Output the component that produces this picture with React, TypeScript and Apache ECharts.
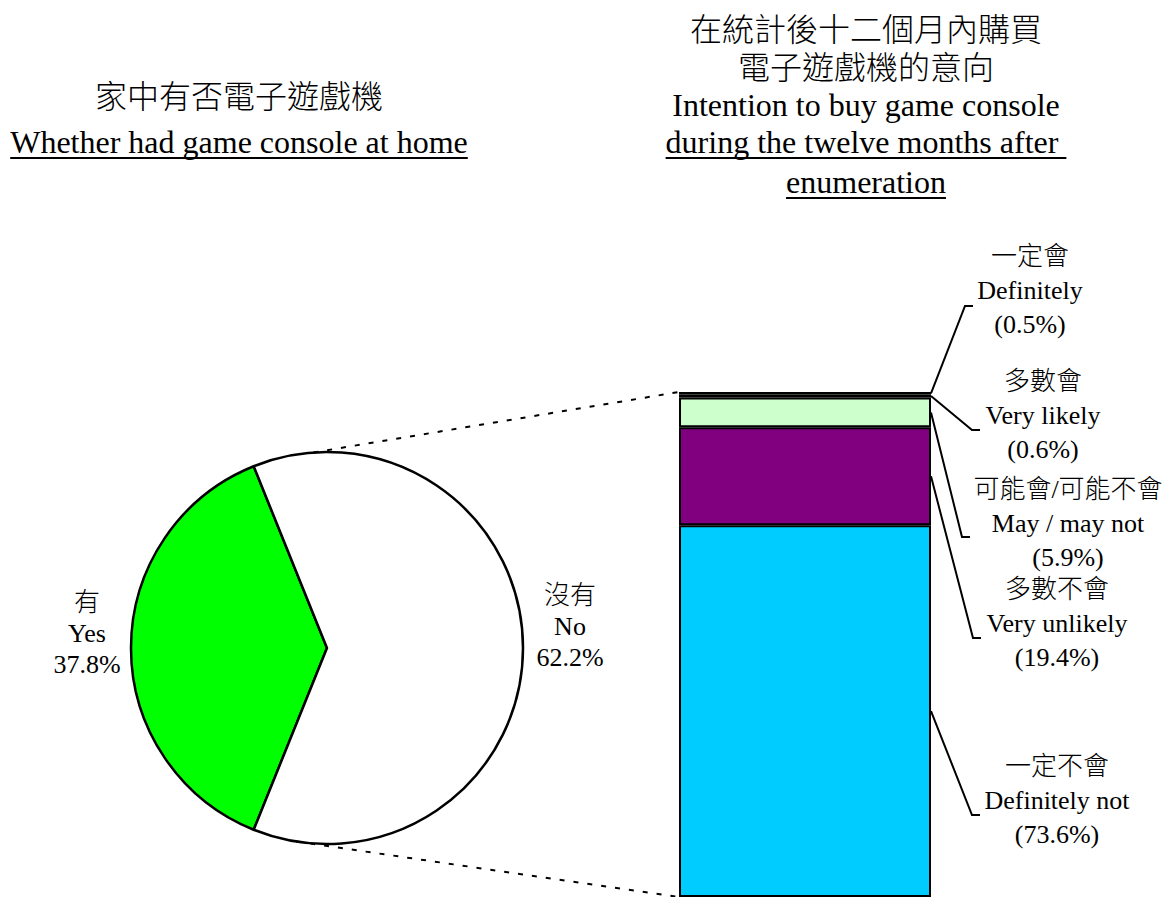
import React, { useEffect, useRef } from 'react';
import * as echarts from 'echarts';

// ---------- data ----------
const pieCn = ['有', '沒有'];
const pieEn = ['Yes', 'No'];
const pieValues = [37.8, 62.2];
const pieColors = ['#00FF00', '#FFFFFF'];

const intentCn = ['一定會', '多數會', '可能會/可能不會', '多數不會', '一定不會'];
const intentEn = ['Definitely', 'Very likely', 'May / may not', 'Very unlikely', 'Definitely not'];
const intentValues = [0.5, 0.6, 5.9, 19.4, 73.6];
const intentColors = ['#FFFF99', '#CCFFFF', '#CCFFCC', '#800080', '#00CCFF'];

const leftTitle = ['家中有否電子遊戲機', 'Whether had game console at home'];
const rightTitle = [
  '在統計後十二個月內購買',
  '電子遊戲機的意向',
  'Intention to buy game console',
  'during the twelve months after ',
  'enumeration',
];

// ---------- layout ----------
const W = 1174;
const H = 897;
const FONT = "'Liberation Serif', 'Times New Roman', 'Noto Sans CJK TC', serif";
const WEIGHT = 300;
const PIE_C = [327, 648];
const PIE_R = 196;
const GRID = { left: 679, top: 392, width: 252, height: 508 };
const pieLabelPos = [[87, 633], [570, 626]];
const intentLabelPos = [[1030, 290], [1043, 415], [1068, 523], [1057, 623], [1057, 800]];
const elbowPos = [[965, 306], [972, 430], [962, 537], [973, 638], [972, 815]];
const connectorAngles = [94, 261];
const leftTitleLayout = { cx: 239, ys: [97, 142], underline: [false, true] };
const rightTitleLayout = { cx: 866, ys: [30, 68, 105, 142, 182], underline: [false, false, false, true, true] };

function measure(text: string, size: number) {
  const c = document.createElement('canvas').getContext('2d');
  if (!c) return text.length * size * 0.45;
  c.font = `${WEIGHT} ${size}px ${FONT}`;
  return c.measureText(text).width;
}

function titleElements(lines: string[], layout: { cx: number; ys: number[]; underline: boolean[] }) {
  const els: any[] = [];
  lines.forEach((t, i) => {
    const y = layout.ys[i];
    if (layout.underline[i]) {
      const w = measure(t, 32);
      const x0 = layout.cx - w / 2;
      els.push({
        type: 'text', x: x0, y, silent: true,
        style: { text: t, fontSize: 32, fontWeight: WEIGHT, fontFamily: FONT, fill: '#000', align: 'left', textAlign: 'left', verticalAlign: 'middle', textVerticalAlign: 'middle' },
      });
      els.push({
        type: 'line', silent: true,
        shape: { x1: x0, y1: y + 16, x2: x0 + w, y2: y + 16 },
        style: { stroke: '#000', lineWidth: 2 },
      });
    } else {
      els.push({
        type: 'text', x: layout.cx, y, silent: true,
        style: { text: t, fontSize: 32, fontWeight: WEIGHT, fontFamily: FONT, fill: '#000', align: 'center', textAlign: 'center', verticalAlign: 'middle', textVerticalAlign: 'middle' },
      });
    }
  });
  return els;
}

export default function App() {
  const ref = useRef<HTMLDivElement>(null);

  useEffect(() => {
    if (!ref.current) return;
    const chart = echarts.init(ref.current, undefined, { renderer: 'svg' });
    const pieTotal = pieValues.reduce((a, b) => a + b, 0);

    const barSeries: any[] = [];
    for (let i = intentValues.length - 1; i >= 0; i--) {
      barSeries.push({
        type: 'bar',
        name: intentEn[i],
        stack: 'intent',
        data: [intentValues[i]],
        barWidth: '100%',
        silent: true,
        itemStyle: { color: intentColors[i], borderColor: '#000', borderWidth: 2 },
      });
    }

    chart.setOption({
      animation: false,
      backgroundColor: '#FFFFFF',
      grid: { left: GRID.left, top: GRID.top, width: GRID.width, height: GRID.height, containLabel: false },
      xAxis: { type: 'category', data: ['intent'], show: false },
      yAxis: { type: 'value', min: 0, max: 100, show: false },
      series: [
        {
          type: 'pie',
          center: PIE_C,
          radius: PIE_R,
          startAngle: 180 + (pieValues[0] / pieTotal) * 180,
          clockwise: true,
          avoidLabelOverlap: false,
          silent: true,
          data: pieValues.map((v, i) => ({ value: v, name: pieEn[i], itemStyle: { color: pieColors[i] } })),
          itemStyle: { borderColor: '#000', borderWidth: 2.5 },
          label: {
            show: true,
            position: 'outside',
            formatter: (p: any) =>
              `${pieCn[p.dataIndex]}\n${pieEn[p.dataIndex]}\n${pieValues[p.dataIndex].toFixed(1)}%`,
            fontSize: 26,
            fontWeight: WEIGHT,
            lineHeight: 31,
            fontFamily: FONT,
            color: '#000',
            align: 'center',
          },
          labelLine: { show: false },
          labelLayout: (params: any) => ({
            x: pieLabelPos[params.dataIndex][0],
            y: pieLabelPos[params.dataIndex][1],
            align: 'center',
            verticalAlign: 'middle',
          }),
          emphasis: { disabled: true },
        },
        ...barSeries,
      ],
    });

    const toPix = (v: number) => (chart.convertToPixel({ gridIndex: 0 }, [0, v]) as number[])[1];
    const barRight = GRID.left + GRID.width;

    const graphics: any[] = [];
    // dashed connectors pie -> bar
    const barEnds = [toPix(100), toPix(0)];
    connectorAngles.forEach((a, k) => {
      const rad = (a * Math.PI) / 180;
      const px = PIE_C[0] + PIE_R * Math.cos(rad);
      const py = PIE_C[1] - PIE_R * Math.sin(rad);
      graphics.push({
        type: 'line', silent: true, z: 10,
        shape: { x1: px, y1: py, x2: GRID.left, y2: barEnds[k] },
        style: { stroke: '#000', lineWidth: 2, lineDash: [5, 9] },
      });
    });

    // leader lines + labels for bar
    intentValues.forEach((v, i) => {
      const below = intentValues.slice(i + 1).reduce((a, b) => a + b, 0);
      const midY = toPix(below + v / 2);
      const [ex, ey] = elbowPos[i];
      graphics.push({
        type: 'polyline', silent: true, z: 10,
        shape: { points: [[barRight, midY], [ex, ey], [ex + 8, ey]] },
        style: { stroke: '#000', lineWidth: 2, fill: null },
      });
      const [lx, ly] = intentLabelPos[i];
      graphics.push({
        type: 'text', x: lx, y: ly, silent: true,
        style: {
          text: `${intentCn[i]}\n${intentEn[i]}\n(${v.toFixed(1)}%)`,
          fontSize: 26, fontWeight: WEIGHT, lineHeight: 34, fontFamily: FONT, fill: '#000',
          align: 'center', textAlign: 'center', verticalAlign: 'middle', textVerticalAlign: 'middle',
        },
      });
    });

    graphics.push(...titleElements(leftTitle, leftTitleLayout));
    graphics.push(...titleElements(rightTitle, rightTitleLayout));

    chart.setOption({ graphic: graphics });

    return () => chart.dispose();
  }, []);

  return (
    <div
      ref={ref}
      style={{ position: 'absolute', left: 0, top: 0, width: W, height: H, background: '#fff' }}
    />
  );
}
